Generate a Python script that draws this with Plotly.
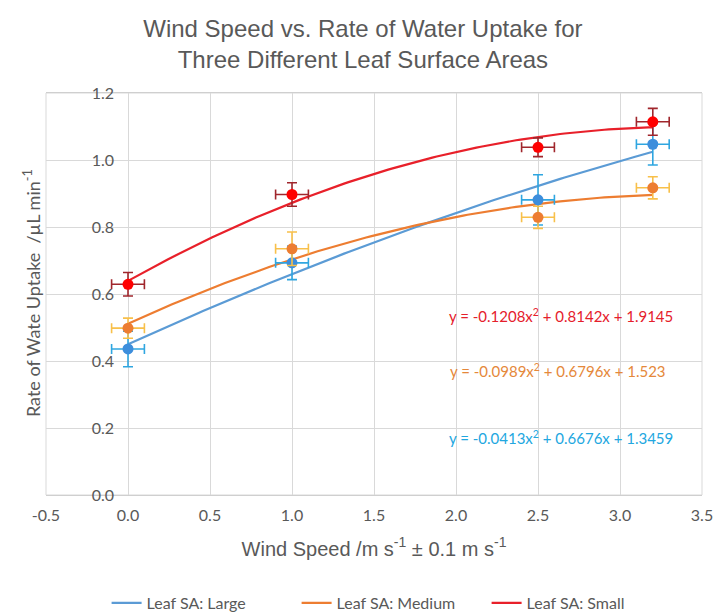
import numpy as np
import plotly.graph_objects as go

# ---- data ----
wind_speed = [0.0, 1.0, 2.5, 3.2]
x_err = [0.1, 0.1, 0.1, 0.1]

large_rate = [0.436, 0.693, 0.881, 1.047]
large_err = [0.053, 0.05, 0.075, 0.062]
medium_rate = [0.498, 0.735, 0.829, 0.917]
medium_err = [0.03, 0.05, 0.033, 0.033]
small_rate = [0.629, 0.897, 1.038, 1.114]
small_err = [0.035, 0.035, 0.028, 0.04]

series_names = ["Leaf SA: Large", "Leaf SA: Medium", "Leaf SA: Small"]
equations = [
    "y = -0.0413x<sup>2</sup> + 0.6676x + 1.3459",
    "y = -0.0989x<sup>2</sup> + 0.6796x + 1.523",
    "y = -0.1208x<sup>2</sup> + 0.8142x + 1.9145",
]
x_ticks = [-0.5, 0.0, 0.5, 1.0, 1.5, 2.0, 2.5, 3.0, 3.5]
y_ticks = [0.0, 0.2, 0.4, 0.6, 0.8, 1.0, 1.2]

# ---- styles ----
line_colors = ["#5B9BD5", "#ED7D31", "#E8202A"]
marker_colors = ["#3D8EDC", "#ED7D31", "#FF0000"]
err_colors = ["#2FA6E0", "#F8C04A", "#A0262C"]
eq_colors = ["#22A7DF", "#E5883A", "#E5202B"]
eq_pos = [(2.64, 0.173), (2.62, 0.373), (2.64, 0.537)]

rates = [large_rate, medium_rate, small_rate]
errs = [large_err, medium_err, small_err]

fig = go.Figure()
xs = np.array(wind_speed)
xfit = np.linspace(min(wind_speed), max(wind_speed), 120)
for i in range(3):
    coef = np.polyfit(xs, np.array(rates[i]), 2)
    fig.add_trace(go.Scatter(
        x=xfit, y=np.polyval(coef, xfit), mode="lines",
        line=dict(color=line_colors[i], width=2.2),
        name=series_names[i], showlegend=True, hoverinfo="skip"))

for i in range(3):
    fig.add_trace(go.Scatter(
        x=wind_speed, y=rates[i], mode="markers",
        marker=dict(color=marker_colors[i], size=11),
        error_y=dict(type="data", array=errs[i], color=err_colors[i], thickness=1.6, width=5),
        error_x=dict(type="data", array=x_err, color=err_colors[i], thickness=1.6, width=5),
        showlegend=False, name=series_names[i]))

for i in range(3):
    fig.add_annotation(x=eq_pos[i][0], y=eq_pos[i][1], text=equations[i], showarrow=False,
                       font=dict(family="Lato, sans-serif", size=15, color=eq_colors[i]),
                       xanchor="center", yanchor="middle")

# y-axis title (placed far left, as in the reference)
fig.add_annotation(xref="paper", yref="paper", x=-0.0213, y=0.5025,
                   text="Rate of Wate Uptake  /µL min<sup>-1</sup>", textangle=-90,
                   showarrow=False, xanchor="center", yanchor="middle",
                   font=dict(family="Lato, sans-serif", size=18, color="#595959"))

grid = "#D9D9D9"
fig.update_layout(
    width=717, height=607,
    margin=dict(l=38, r=21, t=85, b=120),
    paper_bgcolor="white", plot_bgcolor="white",
    title=dict(text="Wind Speed vs. Rate of Water Uptake for<br>Three Different Leaf Surface Areas",
               x=0.495, xref="container", xanchor="center", yref="container", y=0.952, yanchor="top",
               font=dict(family="Liberation Sans, Arial, sans-serif", size=24, color="#595959")),
    font=dict(family="Lato, sans-serif", color="#595959"),
    xaxis=dict(range=[-0.5, 3.5], tickvals=x_ticks, ticktext=[f"{v:.1f}" for v in x_ticks],
               showgrid=True, gridcolor=grid, gridwidth=1, zeroline=False,
               showline=True, linecolor="#CFCFCF", mirror=True, ticks="", ticklabelstandoff=6,
               tickfont=dict(family="Lato, sans-serif", size=16, color="#595959"),
               title=dict(text="Wind Speed /m s<sup>-1</sup> ± 0.1 m s<sup>-1</sup>", standoff=18,
                          font=dict(family="Liberation Sans, Arial, sans-serif", size=20, color="#595959"))),
    yaxis=dict(range=[0, 1.2], tickvals=y_ticks, ticktext=[f"{v:.1f}" for v in y_ticks],
               anchor="free", position=0.1252,
               showgrid=True, gridcolor=grid, gridwidth=1, zeroline=False,
               showline=False, ticks="", ticklabelstandoff=14,
               tickfont=dict(family="Lato, sans-serif", size=16, color="#595959")),
    legend=dict(orientation="h", xref="container", x=0.535, xanchor="center",
                yref="container", y=0.0198, yanchor="middle",
                font=dict(family="Lato, sans-serif", size=16, color="#595959"),
                itemwidth=30, entrywidth=145, traceorder="normal"),
)
# border lines at left/right of plot area
fig.update_layout(shapes=[dict(type="rect", xref="paper", yref="paper", x0=0, x1=1, y0=0, y1=1,
                               line=dict(color=grid, width=1), layer="below")])

fig.write_html("out.html")
